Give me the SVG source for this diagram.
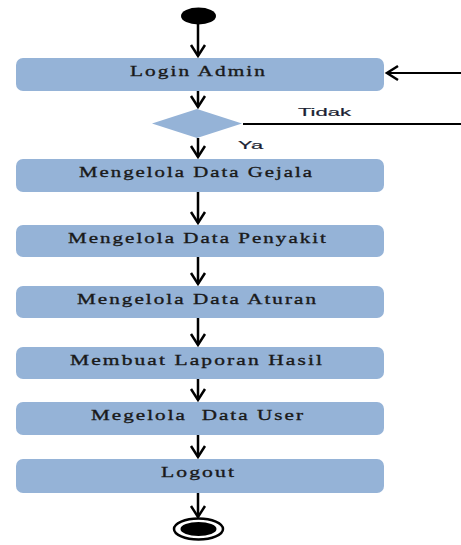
<svg xmlns="http://www.w3.org/2000/svg" width="461" height="545" viewBox="0 0 461 545">
<style>
.box{fill:#95b3d7;}
.lbl{font-family:"Liberation Serif","Times New Roman",serif;font-size:15.5px;letter-spacing:1.5px;fill:#1a1a1a;stroke:#1a1a1a;stroke-width:0.35;text-anchor:middle;}
.sm{font-family:"Liberation Sans",Arial,sans-serif;font-size:11.5px;fill:#1b1f33;stroke:#1b1f33;stroke-width:0.2;}
.ln{stroke:#000;stroke-width:2.5;fill:none;}
.thin{stroke:#000;stroke-width:2;fill:none;}
</style>
<defs>
<marker id="ah" markerUnits="userSpaceOnUse" markerWidth="16" markerHeight="18" viewBox="0 0 16 18" refX="13" refY="9" orient="auto">
<path d="M2,2 L13,9 L2,16" fill="none" stroke="#000" stroke-width="2.5"/>
</marker>
</defs>
<rect width="461" height="545" fill="#fff"/>
<g id="connectors">
<line class="ln" x1="198" y1="24" x2="198" y2="56" marker-end="url(#ah)"/>
<line class="ln" x1="198" y1="91" x2="198" y2="107" marker-end="url(#ah)"/>
<line class="ln" x1="198" y1="138" x2="198" y2="157" marker-end="url(#ah)"/>
<line class="ln" x1="198" y1="192" x2="198" y2="223" marker-end="url(#ah)"/>
<line class="ln" x1="198" y1="257" x2="198" y2="284" marker-end="url(#ah)"/>
<line class="ln" x1="198" y1="318" x2="198" y2="345" marker-end="url(#ah)"/>
<line class="ln" x1="198" y1="379" x2="198" y2="400" marker-end="url(#ah)"/>
<line class="ln" x1="198" y1="435" x2="198" y2="457" marker-end="url(#ah)"/>
<line class="ln" x1="198" y1="493" x2="198" y2="517" marker-end="url(#ah)"/>
<line class="thin" x1="243" y1="124" x2="461" y2="124"/>
<line class="thin" x1="461" y1="73" x2="387" y2="73" marker-end="url(#ah)"/>
<text class="sm" x="298" y="116" textLength="53" lengthAdjust="spacingAndGlyphs">Tidak</text>
<text class="sm" x="238" y="149" textLength="25" lengthAdjust="spacingAndGlyphs">Ya</text>
</g>
<g id="start"><ellipse cx="198.5" cy="16" rx="17.5" ry="8.5" fill="#000"/></g>
<g id="login"><rect class="box" x="16" y="58" width="368" height="33" rx="7"/><text class="lbl" x="198.5" y="75.5" textLength="137" lengthAdjust="spacingAndGlyphs">Login Admin</text></g>
<g id="decision"><polygon points="152,123.5 197,109 242,123.5 197,138" fill="#95b3d7"/></g>
<g id="gejala"><rect class="box" x="16" y="159" width="368" height="33" rx="7"/><text class="lbl" x="196.5" y="176.5" textLength="235" lengthAdjust="spacingAndGlyphs">Mengelola Data Gejala</text></g>
<g id="penyakit"><rect class="box" x="16" y="225" width="368" height="32" rx="7"/><text class="lbl" x="198" y="242.5" textLength="260" lengthAdjust="spacingAndGlyphs">Mengelola Data Penyakit</text></g>
<g id="aturan"><rect class="box" x="16" y="286" width="368" height="32" rx="7"/><text class="lbl" x="197.5" y="303.5" textLength="241" lengthAdjust="spacingAndGlyphs">Mengelola Data Aturan</text></g>
<g id="laporan"><rect class="box" x="16" y="347" width="368" height="32" rx="7"/><text class="lbl" x="197" y="364.5" textLength="254" lengthAdjust="spacingAndGlyphs">Membuat Laporan Hasil</text></g>
<g id="user"><rect class="box" x="16" y="402" width="368" height="33" rx="7"/><text class="lbl" x="198" y="420" textLength="214" lengthAdjust="spacingAndGlyphs" style="white-space:pre">Megelola  Data User</text></g>
<g id="logout"><rect class="box" x="16" y="459" width="368" height="34" rx="7"/><text class="lbl" x="198.5" y="477" textLength="75" lengthAdjust="spacingAndGlyphs">Logout</text></g>
<g id="end"><ellipse cx="198.5" cy="529" rx="24.5" ry="10.5" fill="#fff" stroke="#000" stroke-width="2.5"/><ellipse cx="198.5" cy="529" rx="18" ry="7" fill="#000"/></g>
</svg>
